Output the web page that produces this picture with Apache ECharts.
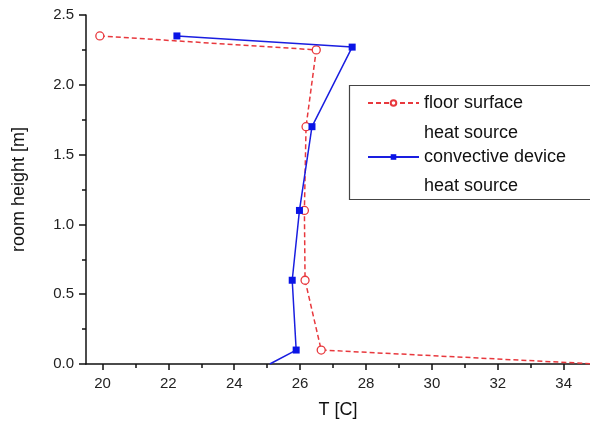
<!DOCTYPE html>
<html>
<head>
<meta charset="utf-8">
<script src="https://cdn.jsdelivr.net/npm/echarts@6/dist/echarts.min.js"></script>
<style>html,body{margin:0;padding:0;background:#fff}#c{width:590px;height:424px}</style>
</head>
<body>
<div id="c"></div>
<script>
// Data
var floorName = 'floor surface';
var convName = 'convective device';
var legendSub = 'heat source';
// floor surface heat source: [T, height]
var floorT = [19.92, 26.49, 26.18, 26.13, 26.15, 26.64, 35.0];
var floorH = [2.35, 2.25, 1.70, 1.10, 0.60, 0.10, 0.0];
// convective device heat source: [T, height]
var convT = [22.26, 27.58, 26.36, 25.98, 25.76, 25.88, 25.08];
var convH = [2.35, 2.27, 1.70, 1.10, 0.60, 0.10, 0.0];
var xMajorTicks = [20, 22, 24, 26, 28, 30, 32, 34];
var xMinorTicks = [21, 23, 25, 27, 29, 31, 33];
var xTitle = 'T [C]';
var yTitle = 'room height [m]';

function pairs(xs, ys) { return xs.map(function (x, i) { return [x, ys[i]]; }); }

var FONT = '"Liberation Sans", Arial, sans-serif';
var chart = echarts.init(document.getElementById('c'), null, {renderer: 'canvas'});
var convData = pairs(convT, convH);
chart.setOption({
  animation: false,
  backgroundColor: '#fff',
  textStyle: {fontFamily: FONT},
  grid: {left: 86, top: 15, bottom: 59, right: 0, containLabel: false},
  xAxis: [{
    type: 'value', min: 19.5, max: 34.8,
    name: xTitle, nameLocation: 'middle', nameGap: 37,
    nameTextStyle: {fontSize: 18, color: '#111', fontFamily: FONT},
    axisLine: {show: true, onZero: false, lineStyle: {color: '#111', width: 1.5}},
    axisTick: {show: true, inside: false, length: 6, customValues: xMajorTicks, lineStyle: {color: '#111', width: 1.5}},
    axisLabel: {show: true, customValues: xMajorTicks, margin: 12, fontSize: 15, color: '#222', fontFamily: FONT},
    splitLine: {show: false}
  }, {
    type: 'value', min: 19.5, max: 34.8, position: 'bottom',
    axisLine: {show: false},
    axisTick: {show: true, inside: false, length: 4, customValues: xMinorTicks, lineStyle: {color: '#111', width: 1.5}},
    axisLabel: {show: false},
    splitLine: {show: false}
  }],
  yAxis: {
    type: 'value', min: 0, max: 2.5, interval: 0.5,
    name: yTitle, nameLocation: 'middle', nameGap: 58, nameRotate: 90,
    nameTextStyle: {fontSize: 18, color: '#111', fontFamily: FONT},
    axisLine: {show: true, onZero: false, lineStyle: {color: '#111', width: 1.5}},
    axisTick: {show: true, inside: false, length: 7, lineStyle: {color: '#111', width: 1.5}},
    minorTick: {show: true, splitNumber: 2, length: 4, lineStyle: {color: '#111', width: 1.5}},
    axisLabel: {margin: 12, fontSize: 15, color: '#222', fontFamily: FONT,
      formatter: function (v) { return v.toFixed(1); }},
    splitLine: {show: false}
  },
  legend: {
    orient: 'vertical', left: 367, top: 93, padding: 0,
    itemWidth: 51, itemHeight: 7, itemGap: 34,
    textStyle: {fontSize: 18, color: '#111', fontFamily: FONT, lineHeight: 20},
    data: [floorName, convName]
  },
  graphic: [
    {type: 'rect', shape: {x: 349.5, y: 85.5, width: 260, height: 114}, style: {fill: 'none', stroke: '#444', lineWidth: 1.2}, z: 100},
    {type: 'text', x: 424, y: 133, style: {text: legendSub, fill: '#111', font: '18px ' + FONT, verticalAlign: 'middle'}, z: 100},
    {type: 'text', x: 424, y: 186, style: {text: legendSub, fill: '#111', font: '18px ' + FONT, verticalAlign: 'middle'}, z: 100}
  ],
  series: [{
    name: floorName, type: 'line', data: pairs(floorT, floorH),
    clip: true,
    symbol: 'circle', symbolSize: 8,
    itemStyle: {color: '#fff', borderColor: '#e8383d', borderWidth: 1.3},
    lineStyle: {color: '#e8383d', width: 1.5, type: [5, 3]},
    color: '#e8383d', z: 2
  }, {
    name: convName, type: 'line', data: convData,
    clip: true,
    symbol: 'rect',
    symbolSize: function (v, p) { return p.dataIndex === convData.length - 1 ? 0 : 7; },
    itemStyle: {color: '#0a14e6'},
    lineStyle: {color: '#1a1ee0', width: 1.5},
    color: '#0a14e6', z: 3
  }]
});
</script>
</body>
</html>
